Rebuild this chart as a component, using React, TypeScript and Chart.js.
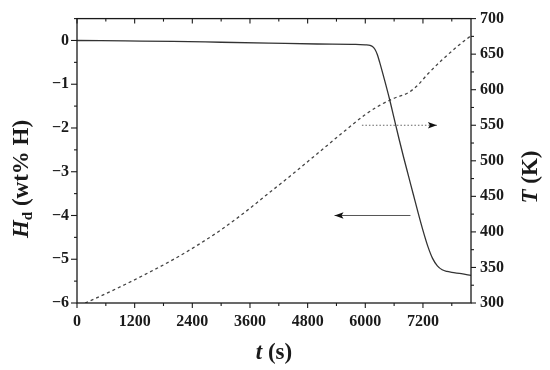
import React, { useEffect, useRef } from "react";
import { Chart, registerables } from "chart.js";
Chart.register(...registerables);

// Hydrogen desorbed (wt% H) vs time (s)
const timeH = [0, 1000, 2000, 3000, 4000, 5000, 5800, 6000, 6100, 6150, 6200, 6250, 6300, 6400, 6500, 6600, 6700, 6800, 6900, 7000, 7100, 7200, 7300, 7400, 7500, 7600, 7700, 7800, 8000, 8200];
const hydrogen = [0, -0.01, -0.02, -0.04, -0.06, -0.08, -0.09, -0.1, -0.11, -0.14, -0.2, -0.32, -0.5, -0.9, -1.32, -1.78, -2.24, -2.68, -3.1, -3.52, -3.94, -4.34, -4.7, -4.98, -5.15, -5.24, -5.28, -5.3, -5.33, -5.37];

// Temperature (K) vs time (s)
const timeT = [170, 500, 1000, 1500, 2000, 2500, 3000, 3500, 4000, 4500, 5000, 5500, 6000, 6300, 6600, 6900, 7100, 7300, 7600, 7900, 8200];
const temperature = [300, 310, 326, 343, 361, 381, 403, 428, 455, 482, 510, 538, 565, 578, 588, 596, 607, 622, 642, 660, 676];

// Arrows pointing to the axis each curve belongs to
const arrowTempX = [5930, 7490];
const arrowTempY = [550, 550];
const arrowHX = [6940, 5360];
const arrowHY = [-4, -4];

// Axis ranges and tick values (majors carry labels, the rest are minor ticks)
const X_MIN = 0, X_MAX = 8200;
const xTicks = [0, 600, 1200, 1800, 2400, 3000, 3600, 4200, 4800, 5400, 6000, 6600, 7200, 7800];
const xMajor = [0, 1200, 2400, 3600, 4800, 6000, 7200];
const H_MIN = -6, H_MAX = 0.5;
const hTicks = [-6, -5.5, -5, -4.5, -4, -3.5, -3, -2.5, -2, -1.5, -1, -0.5, 0, 0.5];
const hMajor = [-6, -5, -4, -3, -2, -1, 0];
const T_MIN = 300, T_MAX = 700;
const tTicks = [300, 325, 350, 375, 400, 425, 450, 475, 500, 525, 550, 575, 600, 625, 650, 675, 700];
const tMajor = [300, 350, 400, 450, 500, 550, 600, 650, 700];

const SERIF = "'Liberation Serif', 'Times New Roman', serif";
const INK = "#1a1a1a";

function richText(ctx: CanvasRenderingContext2D, parts: { t: string; f: string; dy?: number }[], cx: number, cy: number, rot: number) {
  ctx.save();
  ctx.translate(cx, cy);
  ctx.rotate(rot);
  let total = 0;
  for (const p of parts) { ctx.font = p.f; total += ctx.measureText(p.t).width; }
  let x = -total / 2;
  ctx.textBaseline = "middle";
  ctx.textAlign = "left";
  ctx.fillStyle = INK;
  for (const p of parts) {
    ctx.font = p.f;
    ctx.fillText(p.t, x, p.dy || 0);
    x += ctx.measureText(p.t).width;
  }
  ctx.restore();
}

const framePlugin = {
  id: "frame",
  afterDatasetsDraw(chart: any) {
    const { ctx } = chart;
    [2, 3].forEach((i) => {
      const meta = chart.getDatasetMeta(i);
      const p0 = meta.data[0], p1 = meta.data[1];
      if (!p0 || !p1) return;
      const ang = Math.atan2(p1.y - p0.y, p1.x - p0.x);
      const L = 9, W = 3.2;
      ctx.save();
      ctx.translate(p1.x, p1.y);
      ctx.rotate(ang);
      ctx.fillStyle = "#111";
      ctx.beginPath();
      ctx.moveTo(0, 0);
      ctx.lineTo(-L, -W);
      ctx.lineTo(-L + 2, 0);
      ctx.lineTo(-L, W);
      ctx.closePath();
      ctx.fill();
      ctx.restore();
    });
  },
  afterDraw(chart: any) {
    const { ctx, chartArea, scales } = chart;
    const { left, right, top, bottom } = chartArea;
    ctx.save();
    ctx.strokeStyle = INK;
    ctx.lineWidth = 1.3;
    ctx.strokeRect(left, top, right - left, bottom - top);
    ctx.lineWidth = 1.1;
    const seg = (x1: number, y1: number, x2: number, y2: number) => {
      ctx.beginPath(); ctx.moveTo(x1, y1); ctx.lineTo(x2, y2); ctx.stroke();
    };
    const xs = scales.x;
    xTicks.forEach((v) => {
      const px = xs.getPixelForValue(v);
      const len = xMajor.includes(v) ? 5 : 3;
      seg(px, bottom, px, bottom + len);
      seg(px, top, px, top + len);
    });
    const ys = scales.y;
    hTicks.forEach((v) => {
      const py = ys.getPixelForValue(v);
      seg(left, py, left - (hMajor.includes(v) ? 6 : 3), py);
    });
    const y2 = scales.y2;
    tTicks.forEach((v) => {
      const py = y2.getPixelForValue(v);
      seg(right, py, right + (tMajor.includes(v) ? 5 : 3), py);
    });
    ctx.restore();

    const big = `bold 23px ${SERIF}`;
    const bigIt = `italic bold 23px ${SERIF}`;
    const sub = `bold 15px ${SERIF}`;
    richText(ctx, [
      { t: "H", f: bigIt },
      { t: "d", f: sub, dy: 6 },
      { t: " (wt% H)", f: big },
    ], 22, 179, -Math.PI / 2);
    richText(ctx, [
      { t: "T", f: bigIt },
      { t: " (K)", f: big },
    ], 531, 177, -Math.PI / 2);
    richText(ctx, [
      { t: "t", f: bigIt },
      { t: " (s)", f: big },
    ], 274, 353, 0);
  },
};

export default function App() {
  const ref = useRef<HTMLCanvasElement>(null);
  useEffect(() => {
    if (!ref.current) return;
    const tickFont = { family: SERIF, size: 16, weight: "bold" as const };
    const chart = new Chart(ref.current, {
      type: "line",
      data: {
        datasets: [
          {
            data: timeH.map((t, i) => ({ x: t, y: hydrogen[i] })),
            yAxisID: "y",
            borderColor: "#333",
            borderWidth: 1.3,
            pointRadius: 0,
            cubicInterpolationMode: "monotone",
          },
          {
            data: timeT.map((t, i) => ({ x: t, y: temperature[i] })),
            yAxisID: "y2",
            borderColor: "#444",
            borderWidth: 1.3,
            borderDash: [3, 3],
            pointRadius: 0,
            cubicInterpolationMode: "monotone",
          },
          {
            data: arrowTempX.map((t, i) => ({ x: t, y: arrowTempY[i] })),
            yAxisID: "y2",
            borderColor: "#666",
            borderWidth: 1,
            borderDash: [1.5, 2],
            pointRadius: 0,
          },
          {
            data: arrowHX.map((t, i) => ({ x: t, y: arrowHY[i] })),
            yAxisID: "y",
            borderColor: "#555",
            borderWidth: 1,
            pointRadius: 0,
          },
        ],
      },
      options: {
        responsive: false,
        animation: false,
        layout: { padding: { top: 17, left: 0, right: 0, bottom: 0 } },
        plugins: { legend: { display: false }, tooltip: { enabled: false } },
        scales: {
          x: {
            type: "linear",
            position: "bottom",
            min: X_MIN,
            max: X_MAX,
            grid: { display: false, drawTicks: false },
            border: { display: false },
            afterBuildTicks: (s: any) => { s.ticks = xMajor.map((v) => ({ value: v })); },
            ticks: {
              autoSkip: false,
              maxRotation: 0,
              padding: 9,
              color: INK,
              font: tickFont,
              callback: (v: any) => String(v),
            },
            afterFit: (s: any) => { s.height = 67; },
          },
          y: {
            type: "linear",
            position: "left",
            min: H_MIN,
            max: H_MAX,
            grid: { display: false, drawTicks: false },
            border: { display: false },
            afterBuildTicks: (s: any) => { s.ticks = hMajor.map((v) => ({ value: v })); },
            ticks: {
              autoSkip: false,
              padding: 8,
              color: INK,
              font: tickFont,
              callback: (v: any) => {
                const n = Number(v);
                return n < 0 ? "\u2212" + Math.abs(n) : String(n);
              },
            },
            afterFit: (s: any) => { s.width = 77; },
          },
          y2: {
            type: "linear",
            position: "right",
            min: T_MIN,
            max: T_MAX,
            grid: { display: false, drawTicks: false },
            border: { display: false },
            afterBuildTicks: (s: any) => { s.ticks = tMajor.map((v) => ({ value: v })); },
            ticks: {
              autoSkip: false,
              padding: 9,
              color: INK,
              font: tickFont,
              callback: (v: any) => String(v),
            },
            afterFit: (s: any) => { s.width = 79; },
          },
        },
      },
      plugins: [framePlugin],
    });
    return () => chart.destroy();
  }, []);
  return (
    <div style={{ position: "fixed", left: 0, top: 0, width: 550, height: 370, background: "#fff" }}>
      <canvas ref={ref} width={550} height={370} style={{ display: "block" }} />
    </div>
  );
}
